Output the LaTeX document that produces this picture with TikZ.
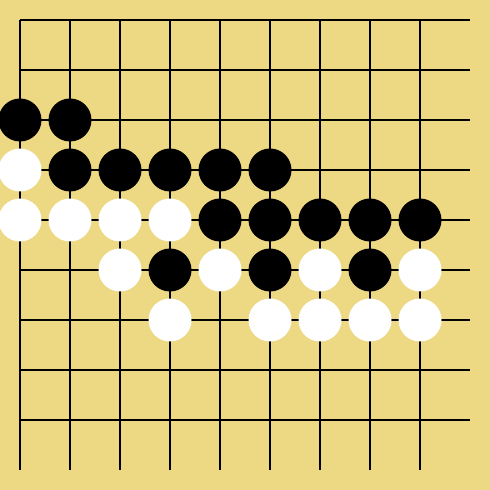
\documentclass[tikz,border=0pt]{standalone}
\usepackage{tikz}

\begin{document}
\begin{tikzpicture}[x=1cm, y=-1cm, line width=0.6pt]
  % Define colors
  \definecolor{boardcol}{RGB}{237,216,131}
  \tikzset{
    blackstone/.style={fill=black},
    whitestone/.style={fill=white}
  }

  % Board
  \fill[boardcol] (-0.4,-0.4) rectangle (9.4,9.4);
  \useasboundingbox (-0.4,-0.4) rectangle (9.4,9.4);

  % Grid lines
  \foreach \i in {0,...,8} {
    \draw[black] (\i,0) -- (\i,9);
    \draw[black] (0,\i) -- (9,\i);
  }

  % Black stones
  \foreach \x/\y in {0/2, 1/2,
                     1/3, 2/3, 3/3, 4/3, 5/3,
                     4/4, 5/4, 6/4, 7/4, 8/4,
                     3/5, 5/5, 7/5}
    \fill[blackstone] (\x,\y) circle (0.43);

  % White stones
  \foreach \x/\y in {0/3,
                     0/4, 1/4, 2/4, 3/4,
                     2/5, 4/5, 6/5, 8/5,
                     3/6, 5/6, 6/6, 7/6, 8/6}
    \fill[whitestone] (\x,\y) circle (0.43);
\end{tikzpicture}
\end{document}
